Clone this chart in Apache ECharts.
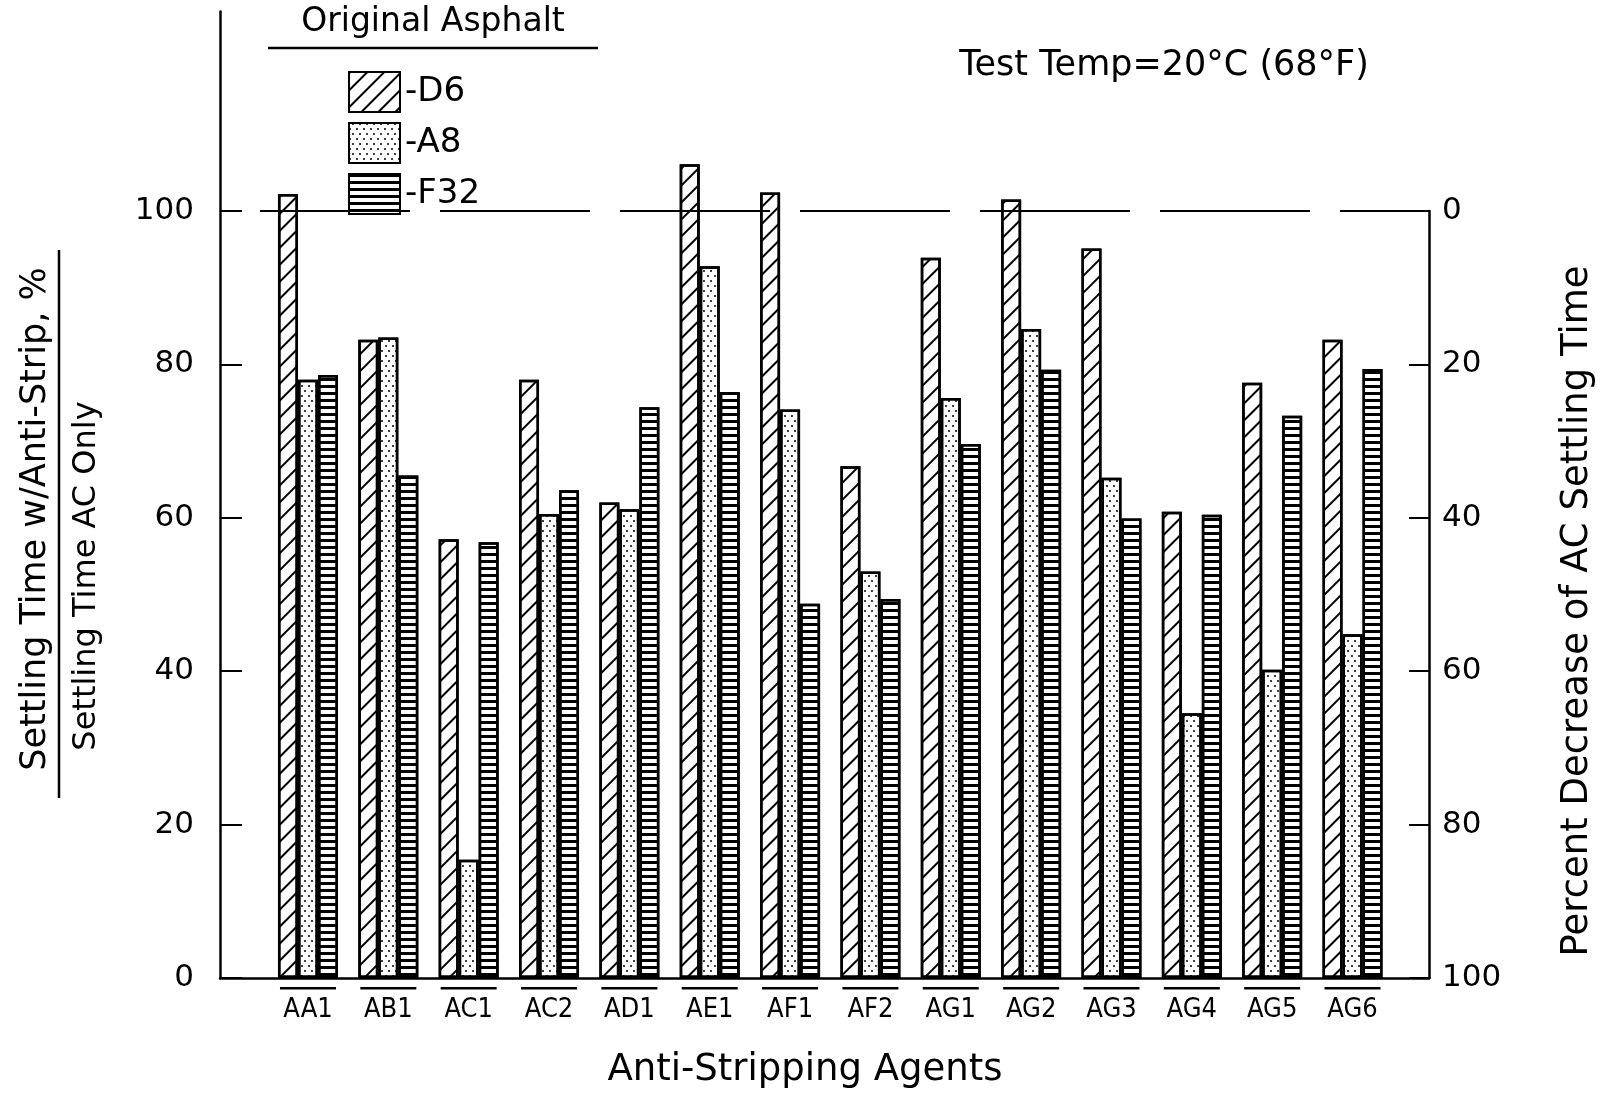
<!DOCTYPE html>
<html>
<head>
<meta charset="utf-8">
<script src="https://cdn.jsdelivr.net/npm/echarts@6/dist/echarts.min.js"></script>
<style>
html,body{margin:0;padding:0;background:#fff;}
#chart{width:1605px;height:1099px;}
</style>
</head>
<body>
<div id="chart"></div>
<script>
const categories = ['AA1','AB1','AC1','AC2','AD1','AE1','AF1','AF2','AG1','AG2','AG3','AG4','AG5','AG6'];
const seriesNames = ['D6','A8','F32'];
const d6Values  = [102.2, 83.2, 57.2, 78.0, 62.0, 106.1, 102.4, 66.7, 93.9, 101.5, 95.1, 60.8, 77.6, 83.2];
const a8Values  = [78.0, 83.5, 15.4, 60.5, 61.1, 92.8, 74.1, 53.0, 75.6, 84.6, 65.2, 34.5, 40.2, 44.8];
const f32Values = [78.6, 65.5, 56.8, 63.6, 74.4, 76.4, 48.8, 49.4, 69.6, 79.3, 59.9, 60.4, 73.3, 79.4];
const leftTicks = [0, 20, 40, 60, 80, 100];
const referenceLevel = 100;

const FONT = '"DejaVu Sans", sans-serif';
const NARROW = '"DejaVu Sans Condensed", "DejaVu Sans", sans-serif';

const chart = echarts.init(document.getElementById('chart'), null, {renderer: 'canvas'});

const barBase = {
  type: 'bar',
  xAxisIndex: 0,
  yAxisIndex: 0,
  barWidth: 20,
  barGap: '0%',
  z: 3
};

const option = {
  backgroundColor: '#fff',
  animation: false,
  grid: [
    {left: 267.8, right: 212.3, top: 11.5, bottom: 121},
    {left: 220, right: 176, top: 11.5, bottom: 121},
    {left: 220, right: 176, top: 211, bottom: 121}
  ],
  legend: {
    data: seriesNames,
    orient: 'vertical',
    left: 343,
    top: 66,
    itemWidth: 51,
    itemHeight: 40,
    itemGap: 9,
    icon: 'rect',
    selectedMode: false,
    formatter: '-{name}',
    textStyle: {fontSize: 34, color: '#000', fontFamily: FONT}
  },
  xAxis: [
    {
      gridIndex: 0, type: 'category', data: categories,
      axisLine: {show: false}, axisTick: {show: false},
      axisLabel: {
        interval: 0, margin: 9, color: '#000',
        formatter: v => '{u|}\n{t|' + v + '}',
        rich: {
          u: {width: 56, height: 2.5, backgroundColor: '#000'},
          t: {fontSize: 27, fontFamily: NARROW, color: '#000', padding: [7, 0, 0, 0]}
        }
      }
    },
    {
      gridIndex: 1, type: 'value', min: 0, max: 1,
      axisLine: {show: true, lineStyle: {color: '#000', width: 2.5}},
      axisTick: {show: false}, axisLabel: {show: false}, splitLine: {show: false}
    },
    {gridIndex: 2, type: 'value', min: 0, max: 1, show: false}
  ],
  yAxis: [
    {gridIndex: 0, type: 'value', min: 0, max: 126, show: false, splitLine: {show: false}},
    {
      gridIndex: 1, type: 'value', min: 0, max: 126,
      axisLine: {show: true, onZero: false, lineStyle: {color: '#000', width: 2.5}},
      axisTick: {show: true, inside: true, length: 22, customValues: leftTicks, lineStyle: {color: '#000', width: 2}},
      axisLabel: {customValues: leftTicks, margin: 26, fontSize: 31, color: '#000', fontFamily: FONT},
      splitLine: {show: false}
    },
    {
      gridIndex: 2, type: 'value', position: 'right', inverse: true, min: 0, max: 100, interval: 20,
      axisLine: {show: true, onZero: false, lineStyle: {color: '#000', width: 2.5}},
      axisTick: {show: true, inside: true, length: 20, lineStyle: {color: '#000', width: 2}},
      axisLabel: {margin: 13, fontSize: 31, color: '#000', fontFamily: FONT},
      splitLine: {show: false}
    }
  ],
  series: [
    {
      type: 'line', xAxisIndex: 1, yAxisIndex: 1, data: [], z: 1, silent: true,
      markLine: {
        silent: true, symbol: ['none', 'none'], label: {show: false},
        lineStyle: {color: '#000', width: 2, type: [150, 30], dashOffset: -40},
        data: [{yAxis: referenceLevel}]
      }
    },
    Object.assign({}, barBase, {
      name: 'D6', data: d6Values,
      itemStyle: {
        color: '#fff', borderColor: '#000', borderWidth: 2.5,
        decal: {symbol: 'rect', symbolSize: 1, color: '#000', dashArrayX: [1, 0], dashArrayY: [1.1, 10], rotation: -Math.PI / 4}
      }
    }),
    Object.assign({}, barBase, {
      name: 'A8', data: a8Values,
      itemStyle: {
        color: '#fff', borderColor: '#000', borderWidth: 2.5,
        decal: {symbol: 'circle', symbolSize: 1, color: '#000', dashArrayX: [[1.6, 4.4], [0, 3, 1.6, 1.4]], dashArrayY: [1.6, 2.4], rotation: 0}
      }
    }),
    Object.assign({}, barBase, {
      name: 'F32', data: f32Values,
      itemStyle: {
        color: '#fff', borderColor: '#000', borderWidth: 2.5,
        decal: {symbol: 'rect', symbolSize: 1, color: '#000', dashArrayX: [1, 0], dashArrayY: [3, 3.2], rotation: 0}
      }
    })
  ],
  graphic: [
    {type: 'text', x: 433, y: 22, style: {text: 'Original Asphalt', fontSize: 33, fontFamily: FONT, fill: '#000', align: 'center', verticalAlign: 'middle'}},
    {type: 'line', shape: {x1: 268, y1: 48, x2: 598, y2: 48}, style: {stroke: '#000', lineWidth: 2.5}},
    {type: 'text', x: 1164, y: 66, style: {text: 'Test Temp=20°C (68°F)', fontSize: 35, fontFamily: FONT, fill: '#000', align: 'center', verticalAlign: 'middle'}},
    {type: 'text', x: 805, y: 1070, style: {text: 'Anti-Stripping Agents', fontSize: 37, fontFamily: FONT, fill: '#000', align: 'center', verticalAlign: 'middle'}},
    {type: 'text', x: 36, y: 519, rotation: Math.PI / 2, style: {text: 'Settling Time w/Anti-Strip, %', fontSize: 35, fontFamily: FONT, fill: '#000', align: 'center', verticalAlign: 'middle'}},
    {type: 'line', shape: {x1: 59, y1: 250, x2: 59, y2: 798}, style: {stroke: '#000', lineWidth: 2.5}},
    {type: 'text', x: 87, y: 576, rotation: Math.PI / 2, style: {text: 'Settling Time AC Only', fontSize: 32, fontFamily: FONT, fill: '#000', align: 'center', verticalAlign: 'middle'}},
    {type: 'text', x: 1577, y: 611, rotation: Math.PI / 2, style: {text: 'Percent Decrease of AC Settling Time', fontSize: 37, fontFamily: FONT, fill: '#000', align: 'center', verticalAlign: 'middle'}}
  ]
};
chart.setOption(option);
</script>
</body>
</html>
